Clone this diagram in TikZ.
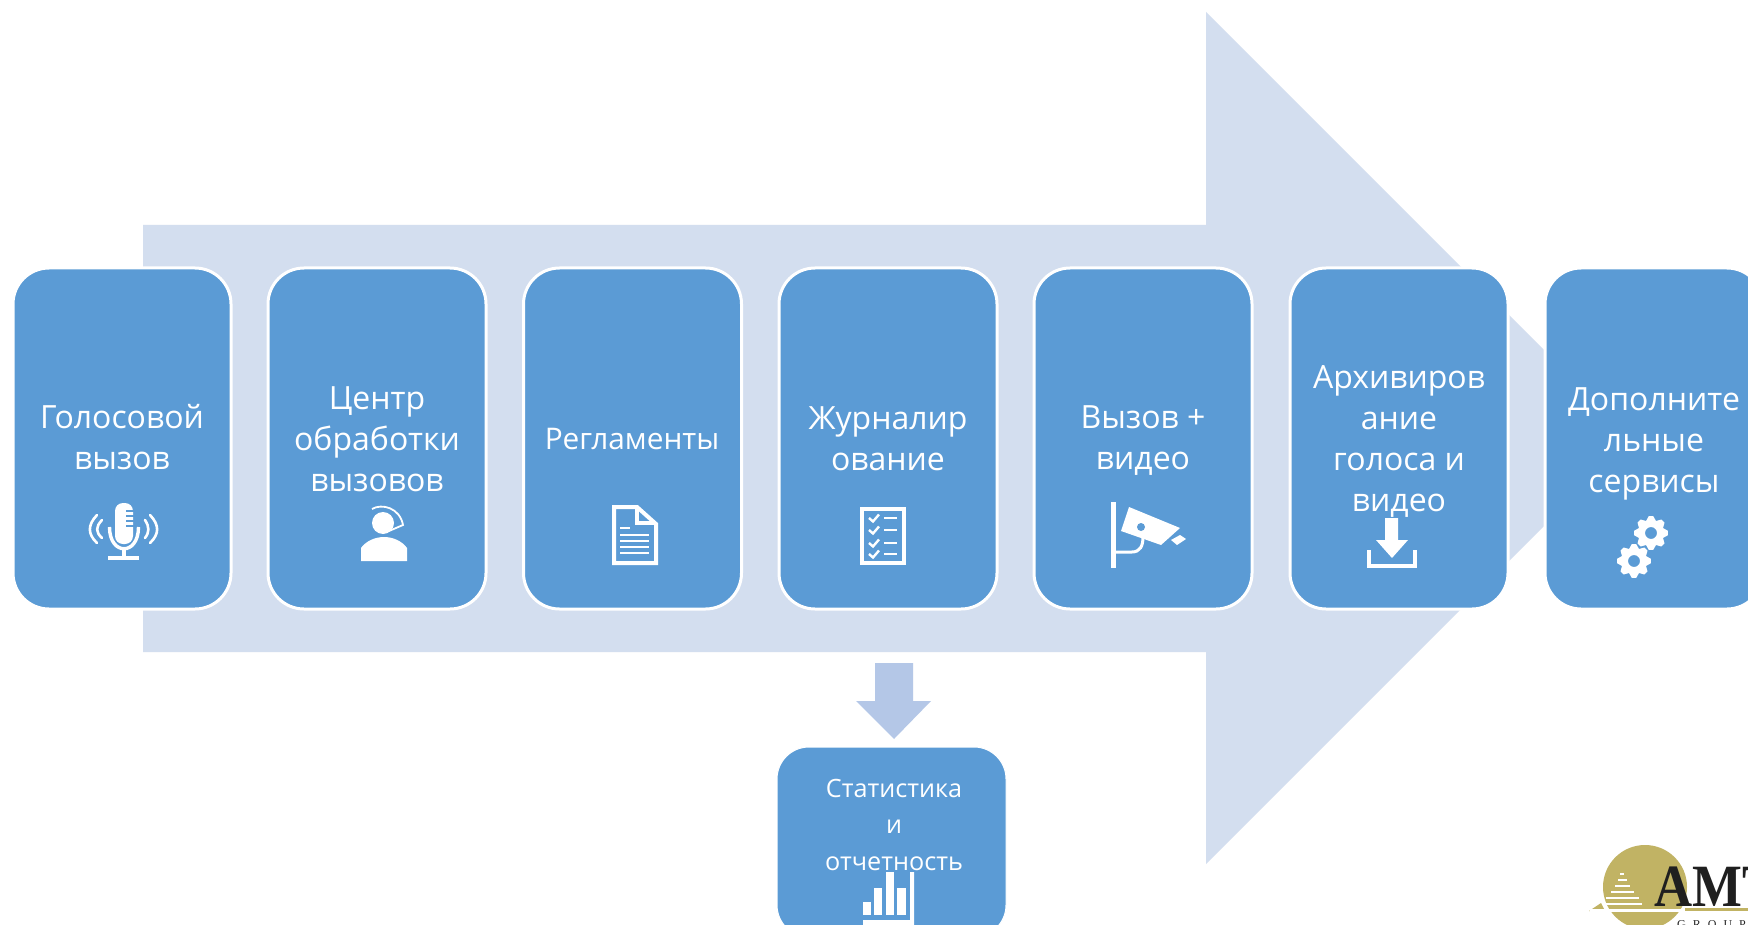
\documentclass[tikz,border=0pt]{standalone}
\usepackage{fontspec}
\setmainfont{Open Sans}
\newfontfamily\logofont{Liberation Serif}
\definecolor{boxblue}{HTML}{5B9BD5}
\definecolor{arrowpale}{HTML}{D3DEEF}
\definecolor{arrowmid}{HTML}{B4C7E7}
\definecolor{logogold}{HTML}{C1B364}
\tikzset{
  stagebox/.style={draw=white,line width=3pt,fill=boxblue,rounded corners=36pt,minimum width=218pt,minimum height=341pt,inner sep=0pt},
  reportbox/.style={draw=white,line width=1pt,fill=boxblue,rounded corners=32pt,minimum width=229pt,minimum height=190pt,inner sep=0pt},
  bigtext/.style={text=white,align=center,inner sep=0pt,font=\fontsize{32}{41}\selectfont},
  midtext/.style={text=white,align=center,inner sep=0pt,font=\fontsize{29.8}{41}\selectfont},
  smalltext/.style={text=white,align=center,inner sep=0pt,font=\fontsize{25.2}{36.5}\selectfont},
  iconline/.style={draw=white,line width=4pt,fill=none},
  iconthin/.style={draw=white,line width=2.6pt,fill=none},
}
\newcommand{\gearicon}[2]{%
  \fill[white,even odd rule]
   plot[samples at={0,15,...,345},variable=\a] ({#1+(mod(\a+15,45)<30 ? 17 : 13)*cos(\a+7.5)},{#2+(mod(\a+15,45)<30 ? 17 : 13)*sin(\a+7.5)}) -- cycle
   (#1+6,#2) .. controls (#1+6,#2+3.3) and (#1+3.3,#2+6) .. (#1,#2+6) .. controls (#1-3.3,#2+6) and (#1-6,#2+3.3) .. (#1-6,#2) .. controls (#1-6,#2-3.3) and (#1-3.3,#2-6) .. (#1,#2-6) .. controls (#1+3.3,#2-6) and (#1+6,#2-3.3) .. (#1+6,#2) -- cycle;}
\begin{document}
\begin{tikzpicture}[x=1pt,y=-1pt]
\clip (0,0) rectangle (1748,925);
\fill[white] (0,0) rectangle (1748,925);
% big arrow
\fill[arrowpale] (143,225) -- (1206,225) -- (1206,12) -- (1632,438) -- (1206,864) -- (1206,652) -- (143,652) -- cycle;
% boxes
\node[stagebox] (b1) at (122,438.5) {};
\node[stagebox] (b2) at (377,438.5) {};
\node[stagebox] (b3) at (632.5,438.5) {};
\node[stagebox] (b4) at (888,438.5) {};
\node[stagebox] (b5) at (1143,438.5) {};
\node[stagebox] (b6) at (1399,438.5) {};
\node[stagebox] (b7) at (1654,438.5) {};
% down arrow
\fill[arrowmid] (875,663) -- (913,663) -- (913,701) -- (931,701) -- (894,739) -- (856,701) -- (875,701) -- cycle;
\node[reportbox] (rep) at (891.5,842) {};
% texts
\node[bigtext] (t1) at (122,437.5) {Голосовой\\вызов};
\node[bigtext] (t2) at (377,439.5) {Центр\\обработки\\вызовов};
\node[midtext] (t3) at (632,439) {Регламенты};
\node[bigtext] (t4) at (888,438.5) {Журналир\\ование};
\node[bigtext] (t5) at (1143,441) {Вызов +\\видео};
\node[bigtext] (t6) at (1399,441) {Архивиров\\ание\\голоса и\\видео};
\node[bigtext] (t7) at (1654,443.5) {Дополните\\льные\\сервисы};
\node[smalltext] (t8) at (894,824.5) {Статистика\\и\\отчетность};
% mic
\fill[white,rounded corners=8pt] (115,503) rectangle (133,544);
\foreach \yy in {511,516,521,526} \draw[boxblue,line width=1.2pt] (126,\yy) -- (133.5,\yy);
\draw[iconline,line width=3.4pt] (109.5,527) .. controls (109.5,556) and (138.5,556) .. (138.5,527);
\draw[iconline,line width=3.4pt] (124,549) -- (124,558);
\draw[iconline,line width=3.4pt] (108,558) -- (139,558);
\draw[iconthin,line cap=round] (102,520) .. controls (95.5,527) and (95.5,532) .. (102,538);
\draw[iconthin,line cap=round] (97,515) .. controls (87.5,525) and (87.5,534) .. (97,543);
\draw[iconthin,line cap=round] (145,520) .. controls (149.5,527) and (149.5,532) .. (145,538);
\draw[iconthin,line cap=round] (150,515) .. controls (159.5,525) and (159.5,534) .. (150,543);
% person
\fill[white] (383,523) circle (11);
\fill[white] (361,561) -- (361,548) .. controls (366,541) and (375,537) .. (384,537) .. controls (393,537) and (402,541) .. (407,548) -- (407,561) -- cycle;
\draw[white,line width=1.8pt] (372,509) .. controls (382,503) and (400,508) .. (403,525) -- (389,531);
% document
\draw[iconline] (614,507) -- (637,507) -- (656,524) -- (656,563) -- (614,563) -- cycle;
\draw[iconline] (637,507) -- (637,523) -- (656,523);
\foreach \xa/\xb/\yy in {620/630/528,620/649/535,620/649/541,620/649/547,620/649/553}
  \draw[white,line width=2.4pt] (\xa,\yy) -- (\xb,\yy);
% checklist
\draw[iconline] (862,509) rectangle (904,563);
\foreach \yy in {518,530,543,554}{
  \draw[white,line width=2.4pt] (869,\yy) -- (873,\yy+3.5) -- (879,\yy-3.5);
  \draw[white,line width=2.4pt] (884,\yy) -- (897,\yy);
}
% camera
\fill[white] (1110.5,502) rectangle (1116,568);
\draw[white,line width=3pt] (1113,552) -- (1132,552) .. controls (1140,552) and (1143,546) .. (1143,537);
\fill[white] (1129,507) -- (1180,528) -- (1161,545) -- (1121,531) -- cycle;
\fill[boxblue] (1141,527) circle (4);
\fill[white] (1180,535) -- (1186,539) -- (1177,545) -- (1171,540) -- cycle;
% download
\fill[white] (1385,518) -- (1398,518) -- (1398,540) -- (1408,540) -- (1392,558) -- (1376,540) -- (1385,540) -- cycle;
\draw[iconline] (1369,550) -- (1369,566) -- (1415,566) -- (1415,550);
% gears
\gearicon{1651}{533}
\gearicon{1634}{561}
% chart
\fill[white] (863,902) rectangle (871,915);
\fill[white] (874,888) rectangle (882,915);
\fill[white] (886,872) rectangle (894,915);
\fill[white] (897,888) rectangle (906,915);
\fill[white] (910,872) rectangle (914,925) (863,920) rectangle (914,925);
% logo
\fill[logogold] (1645,887) circle (42);
\fill[logogold] (1589,911) -- (1601,903) -- (1605,911) -- cycle;
\fill[white] (1590,908.5) rectangle (1690,911.5);
\fill[logogold] (1685,908) rectangle (1748,911);
\foreach \yy/\ww in {874/4,880/9,886/15,892/23,898/33,904/40}
  \fill[white] (1622-\ww/2,\yy-1.2) rectangle (1622+\ww/2,\yy+1.2);
\node[anchor=base west,inner sep=0pt,xscale=.88,text=black!88,font=\logofont\bfseries\fontsize{60}{60}\selectfont] (amt) at (1654,906) {AMT};
\node[anchor=base west,inner sep=0pt,text=black!85,font=\logofont\fontsize{12}{12}\selectfont] (grp) at (1677,928) {G\hspace{7pt}R\hspace{7pt}O\hspace{7pt}U\hspace{7pt}P};
\end{tikzpicture}
\end{document}
